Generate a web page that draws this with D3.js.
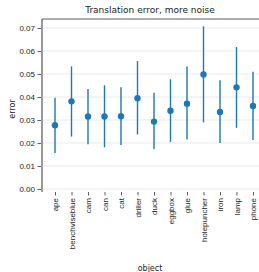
<!DOCTYPE html>
<html>
<head>
<meta charset="utf-8">
<script src="https://cdn.jsdelivr.net/npm/d3@7"></script>
<style>
  body { margin: 0; background: #fff; }
  svg { font-family: "DejaVu Sans", sans-serif; }
</style>
</head>
<body>
<div class="graph-container"></div>
<script>
const svgWidth = 259;
const svgHeight = 272;

const objects = ["ape", "benchviseblue", "cam", "can", "cat", "driller", "duck",
    "eggbox", "glue", "holepuncher", "iron", "lamp", "phone"];
const meanError = [0.0277, 0.0381, 0.0315, 0.0315, 0.0316, 0.0395, 0.0293,
    0.0340, 0.0371, 0.0498, 0.0335, 0.0442, 0.0361];
const lowError = [0.0157, 0.0228, 0.0195, 0.0181, 0.0191, 0.0237, 0.0173,
    0.0205, 0.0215, 0.0290, 0.0200, 0.0266, 0.0213];
const highError = [0.0397, 0.0533, 0.0435, 0.0451, 0.0442, 0.0556, 0.0418,
    0.0477, 0.0532, 0.0707, 0.0473, 0.0617, 0.0510];
const yTicks = [0, 0.01, 0.02, 0.03, 0.04, 0.05, 0.06, 0.07];

const plotLeft = 42, plotRight = 259, plotTop = 19, plotBottom = 192;

const yScale = d3.scaleLinear()
    .domain([-0.0013, 0.0739])
    .range([plotBottom, plotTop]);

const xScale = d3.scalePoint()
    .domain(objects)
    .range([55, 253]);

const svg = d3.select(".graph-container")
    .append("svg")
    .attr("width", svgWidth)
    .attr("height", svgHeight);

// grid
svg.append("g")
    .selectAll("line")
    .data(yTicks)
    .enter()
    .append("line")
    .attr("x1", plotLeft)
    .attr("x2", plotRight)
    .attr("y1", d => yScale(d))
    .attr("y2", d => yScale(d))
    .attr("stroke", "#e5e5e5")
    .attr("stroke-width", 0.8);

// error bars
svg.append("g")
    .selectAll("line")
    .data(objects)
    .enter()
    .append("line")
    .attr("x1", d => xScale(d))
    .attr("x2", d => xScale(d))
    .attr("y1", (_, i) => yScale(lowError[i]))
    .attr("y2", (_, i) => yScale(highError[i]))
    .attr("stroke", "#1f77b4")
    .attr("stroke-width", 1.4);

svg.append("g")
    .selectAll("circle")
    .data(meanError)
    .enter()
    .append("circle")
    .attr("cx", (_, i) => xScale(objects[i]))
    .attr("cy", d => yScale(d))
    .attr("r", 3.2)
    .attr("fill", "#1f77b4");

// y axis
const yAxis = d3.axisLeft(yScale)
    .tickValues(yTicks)
    .tickFormat(d3.format(".2f"))
    .tickSize(3.5)
    .tickPadding(2.5);
const yG = svg.append("g")
    .attr("transform", `translate(${plotLeft - 1},0)`)
    .call(yAxis);
yG.select(".domain").remove();
yG.selectAll(".tick line").attr("stroke", "#333").attr("stroke-width", 0.8);
yG.selectAll(".tick text").attr("fill", "#222").style("font-size", "8px");

// x axis
const xAxis = d3.axisBottom(xScale)
    .tickSize(3.5)
    .tickPadding(2.5);
const xG = svg.append("g")
    .attr("transform", `translate(0,${plotBottom})`)
    .call(xAxis);
xG.select(".domain").remove();
xG.selectAll(".tick line").attr("stroke", "#333").attr("stroke-width", 0.8);
xG.selectAll(".tick text")
    .attr("fill", "#222")
    .style("font-size", "8px")
    .attr("transform", "rotate(-90)")
    .attr("text-anchor", "end")
    .attr("x", -6)
    .attr("y", 0)
    .attr("dy", "0.35em");

// spines
svg.append("line")
    .attr("x1", plotLeft).attr("x2", plotLeft)
    .attr("y1", plotTop).attr("y2", plotBottom)
    .attr("stroke", "#999").attr("stroke-width", 2);
svg.append("line")
    .attr("x1", plotLeft).attr("x2", plotRight)
    .attr("y1", plotTop).attr("y2", plotTop)
    .attr("stroke", "#333").attr("stroke-width", 0.8);

svg.append("text")
    .attr("x", 150)
    .attr("y", 13)
    .attr("text-anchor", "middle")
    .style("font-size", "9px")
    .attr("fill", "#222")
    .text("Translation error, more noise");

svg.append("text")
    .attr("transform", "rotate(-90)")
    .attr("x", -109)
    .attr("y", 15)
    .attr("text-anchor", "middle")
    .style("font-size", "8px")
    .attr("fill", "#222")
    .text("error");

svg.append("text")
    .attr("x", 150)
    .attr("y", 271)
    .attr("text-anchor", "middle")
    .style("font-size", "8px")
    .attr("fill", "#222")
    .text("object");
</script>
</body>
</html>
